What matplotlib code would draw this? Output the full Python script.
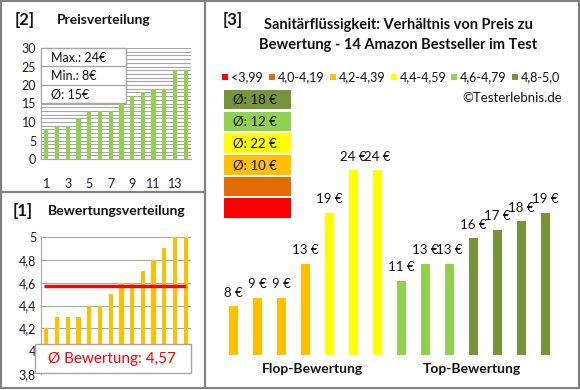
import numpy as np
import matplotlib
matplotlib.use('Agg')
import matplotlib.pyplot as plt
from matplotlib.patches import Rectangle
from matplotlib.lines import Line2D

plt.rcParams['font.family'] = ['Lato', 'DejaVu Sans']

# data
price_sorted = [8, 9, 9, 11, 13, 13, 13, 15, 17, 18, 19, 19, 24, 24]
rating_sorted = [4.2, 4.3, 4.3, 4.3, 4.4, 4.4, 4.5, 4.6, 4.6, 4.7, 4.8, 4.9, 5.0, 5.0]
rating_mean = 4.57

bar_prices = [8, 9, 9, 13, 19, 24, 24, 11, 13, 13, 16, 17, 18, 19]
bar_class = [2, 2, 2, 2, 3, 3, 3, 4, 4, 4, 5, 5, 5, 5]
group_labels = ['Flop-Bewertung', 'Top-Bewertung']

class_labels = ['<3,99', '4,0-4,19', '4,2-4,39', '4,4-4,59', '4,6-4,79', '4,8-5,0']
class_colors = ['#FF0000', '#E36C09', '#FFC000', '#FFFF00', '#92D050', '#77933C']

W, H = 580, 390
TXT = '#1b1b33'
GRID = '#a6a6a6'
BORDER = '#808080'

fig = plt.figure(figsize=(W / 100, H / 100), dpi=100)


def rect(x0, y0, x1, y1):
    return [x0 / W, 1 - y1 / H, (x1 - x0) / W, (y1 - y0) / H]


def fx(x):
    return x / W


def fy(y):
    return 1 - y / H


def box(x0, y0, x1, y1, fc='none', ec=BORDER, lw=1.5, z=0):
    fig.add_artist(Rectangle((fx(x0), fy(y1)), (x1 - x0) / W, (y1 - y0) / H,
                             transform=fig.transFigure, facecolor=fc,
                             edgecolor=ec, linewidth=lw, zorder=z))


# panel borders
box(1, 1, 205, 192)
box(1, 192, 205, 388)
box(205, 1, 579, 388)

# [2] Preisverteilung
fig.text(fx(15), fy(20), '[2]', fontsize=12, fontweight='bold', color='#111', va='center')
fig.text(fx(57), fy(20), 'Preisverteilung', fontsize=10, fontweight='bold', color='#111', va='center')

x = np.arange(1, len(price_sorted) + 1)
ax1 = fig.add_axes(rect(41, 48, 191, 159))
ax1.bar(x, price_sorted, width=0.4, color='#92D050', zorder=3)
ax1.set_xlim(0.5, 14.5)
ax1.set_ylim(0, 30)
ax1.set_yticks(range(0, 31, 5))
ax1.set_yticks(range(0, 31, 1), minor=True)
ax1.set_xticks(range(1, 15, 2))
ax1.grid(axis='y', which='both', color=GRID, linewidth=0.8, zorder=0)
ax1.tick_params(which='both', length=0, labelsize=9, colors=TXT)
ax1.tick_params(axis='x', pad=14)
for s in ['top', 'right']:
    ax1.spines[s].set_visible(False)
ax1.spines['left'].set_color(GRID)
ax1.spines['bottom'].set_color(GRID)

stats = ['Max.: %d€' % max(price_sorted), 'Min.: %d€' % min(price_sorted),
         'Ø: %d€' % round(np.mean(price_sorted))]
box(41, 48, 126, 103, fc='white', ec=GRID, lw=1, z=5)
for i, s in enumerate(stats):
    y0 = 48 + i * 18.3
    if i > 0:
        fig.add_artist(Line2D([fx(41), fx(126)], [fy(y0), fy(y0)], color=GRID,
                              linewidth=1, transform=fig.transFigure, zorder=6))
    fig.text(fx(51), fy(y0 + 9.5), s, fontsize=9, color='#111', va='center', zorder=7)

# [1] Bewertungsverteilung
fig.text(fx(13), fy(211), '[1]', fontsize=12, fontweight='bold', color='#111', va='center')
fig.text(fx(48), fy(211), 'Bewertungsverteilung', fontsize=10, fontweight='bold', color='#111', va='center')

ax2 = fig.add_axes(rect(41, 237, 191, 374))
ax2.bar(x, np.array(rating_sorted) - 3.8, bottom=3.8, width=0.4, color='#FFC000', zorder=3)
ax2.plot([x[0] - 0.2, x[-1]], [rating_mean, rating_mean], color='#FF0000', linewidth=2.4,
         solid_capstyle='butt', zorder=4)
ax2.set_xlim(0.5, 14.5)
ax2.set_ylim(3.8, 5.0)
ax2.set_yticks(np.arange(3.8, 5.01, 0.2))
ax2.set_yticklabels(['3,8', '4', '4,2', '4,4', '4,6', '4,8', '5'])
ax2.set_xticks([])
ax2.grid(axis='y', color=GRID, linewidth=0.8, zorder=0)
ax2.tick_params(length=0, labelsize=9, colors=TXT)
for s in ['top', 'right', 'bottom']:
    ax2.spines[s].set_visible(False)
ax2.spines['left'].set_color(GRID)

box(35, 344, 191, 373, fc='white', ec=GRID, lw=1, z=5)
fig.text(fx(112), fy(358.5), 'Ø Bewertung: %s' % ('%.2f' % rating_mean).replace('.', ','),
         fontsize=11, color='#FF0000', ha='center', va='center', zorder=7)

# [3] Preis / Bewertung
fig.text(fx(223), fy(20), '[3]', fontsize=12, fontweight='bold', color='#111', va='center')
fig.text(fx(398), fy(25), 'Sanitärflüssigkeit: Verhältnis von Preis zu',
         fontsize=10.5, fontweight='bold', color='#111', ha='center', va='center')
fig.text(fx(398), fy(45), 'Bewertung - 14 Amazon Bestseller im Test',
         fontsize=10.5, fontweight='bold', color='#111', ha='center', va='center')

sq_x = [225, 272, 333, 394, 454, 515]
for sx, lab, col in zip(sq_x, class_labels, class_colors):
    box(sx - 3, 74, sx + 3, 80, fc=col, ec='none', lw=0)
    fig.text(fx(sx + 6), fy(77), lab, fontsize=9, color='#111', va='center')
fig.text(fx(562), fy(98), '©Testerlebnis.de', fontsize=9.5, color='#111', ha='right', va='center')

# average boxes, highest class on top
rows = [(90, 109), (112, 131), (133, 153), (155, 175), (177, 196), (198, 218)]
for (y0, y1), c in zip(rows, [5, 4, 3, 2, 1, 0]):
    box(224, y0, 291, y1, fc=class_colors[c], ec='none', lw=0)
    vals = [p for p, k in zip(bar_prices, bar_class) if k == c]
    if vals:
        fig.text(fx(233), fy((y0 + y1) / 2), 'Ø: %d €' % round(np.mean(vals)),
                 fontsize=9.5, color='#111', va='center')

ax3 = fig.add_axes(rect(221.5, 100, 557.5, 355))
xb = np.arange(len(bar_prices))
ax3.bar(xb, np.array(bar_prices) - 2.24, bottom=2.24, width=0.375,
        color=[class_colors[k] for k in bar_class])
for xi, p in zip(xb, bar_prices):
    ax3.annotate('%d €' % p, (xi, p), xytext=(0, 9.5), textcoords='offset points',
                 ha='center', va='center', fontsize=9.5, color='#111')
ax3.set_xlim(-0.5, 13.5)
ax3.set_ylim(2.24, 32.24)
ax3.axis('off')
ax3.text(3.3, -0.055, group_labels[0], transform=ax3.get_xaxis_transform(),
         ha='center', va='center', fontsize=10, fontweight='bold', color='#111')
ax3.text(9.95, -0.055, group_labels[1], transform=ax3.get_xaxis_transform(),
         ha='center', va='center', fontsize=10, fontweight='bold', color='#111')

fig.savefig('out.png', dpi=100)
